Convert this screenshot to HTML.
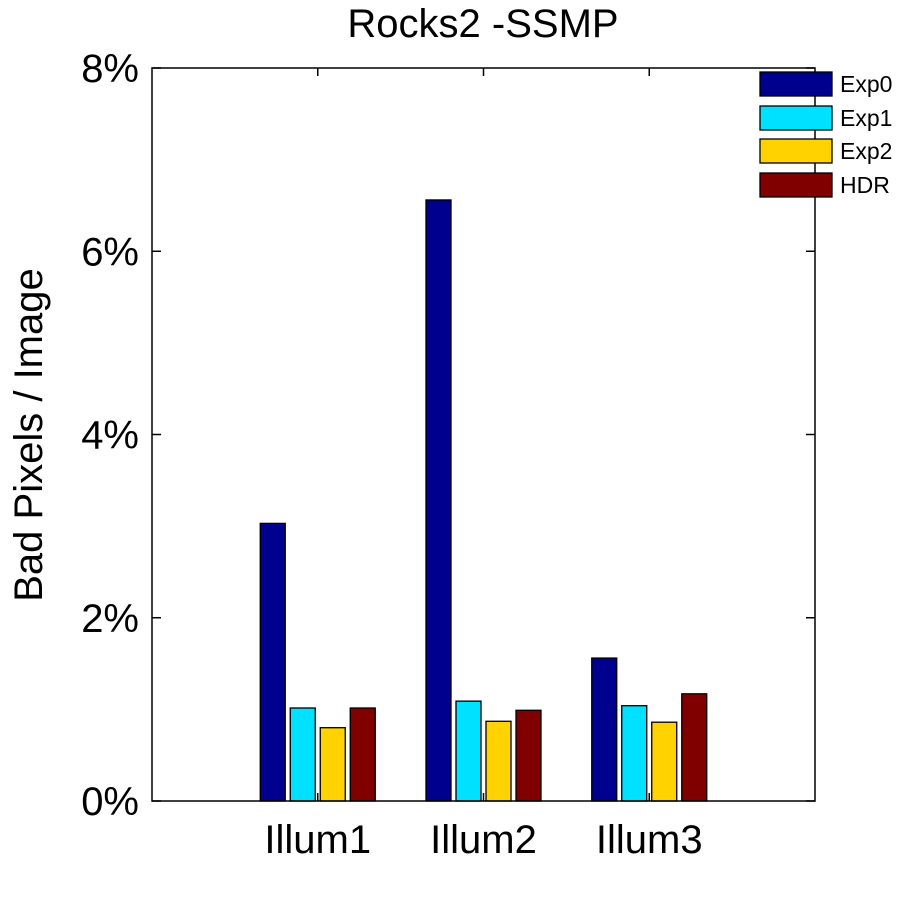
<!DOCTYPE html>
<html><head><meta charset="utf-8"><style>
body{margin:0;background:#fff}
svg{display:block;font-family:"Liberation Sans",sans-serif}
</style></head><body>
<svg id="chart" width="901" height="901">
<text x="483" y="37" font-size="40" text-anchor="middle">Rocks2 -SSMP</text>
<text transform="translate(42,435) rotate(-90)" font-size="40" text-anchor="middle">Bad Pixels / Image</text>
<g id="plot"></g>
</svg>
<script>
const categories=["Illum1","Illum2","Illum3"];
const seriesNames=["Exp0","Exp1","Exp2","HDR"];
const exp0=[3.03,6.56,1.56];
const exp1=[1.015,1.09,1.04];
const exp2=[0.80,0.87,0.86];
const hdr=[1.015,0.99,1.17];
const yTicks=[0,2,4,6,8];
const colors=["#00008F","#00E0FF","#FFD200","#800000"];
const series=[exp0,exp1,exp2,hdr];
const L=152,R=815,T=68,B=801;
const NS="http://www.w3.org/2000/svg";
const g=document.getElementById('plot');
function x(v){return L+(R-L)*v/4;}
function y(v){return B-(B-T)*v/8;}
function el(t,a){const e=document.createElementNS(NS,t);for(const k in a)e.setAttribute(k,a[k]);g.appendChild(e);return e;}
series.forEach((s,si)=>{s.forEach((v,ci)=>{
 const cx=x(ci+1)+(si-1.5)*30;
 const r=el('rect',{x:cx-12.5,y:y(v),width:25,height:y(0)-y(v),fill:colors[si],stroke:'#000','stroke-width':1.3});
 
 
});});
const fr=el('rect',{x:L,y:T,width:R-L,height:B-T,fill:'none',stroke:'#000','stroke-width':1.5});


yTicks.forEach(t=>{
 el('line',{x1:L,x2:L+9,y1:y(t),y2:y(t),stroke:'#000','stroke-width':1.5});
 el('line',{x1:R-9,x2:R,y1:y(t),y2:y(t),stroke:'#000','stroke-width':1.5});
 const tx=el('text',{x:139,y:y(t)+14,'font-size':40,'text-anchor':'end'});
 tx.textContent=t+'%';
 
 
});
categories.forEach((c,i)=>{
 el('line',{x1:x(i+1),x2:x(i+1),y1:T,y2:T+8,stroke:'#000','stroke-width':1.5});
 el('line',{x1:x(i+1),x2:x(i+1),y1:B-8,y2:B,stroke:'#000','stroke-width':1.5});
 const tx=el('text',{x:x(i+1),y:853,'font-size':40,'text-anchor':'middle'});
 tx.textContent=c;
 
 
});
const ly=[72,106,139,173];
seriesNames.forEach((n,i)=>{
 const r=el('rect',{x:760,y:ly[i],width:72,height:24,fill:colors[i],stroke:'#000','stroke-width':1.3});
 
 
 const t=el('text',{x:840,y:ly[i]+20,'font-size':23});
 t.textContent=n;
 
 
});
</script>
</body></html>
